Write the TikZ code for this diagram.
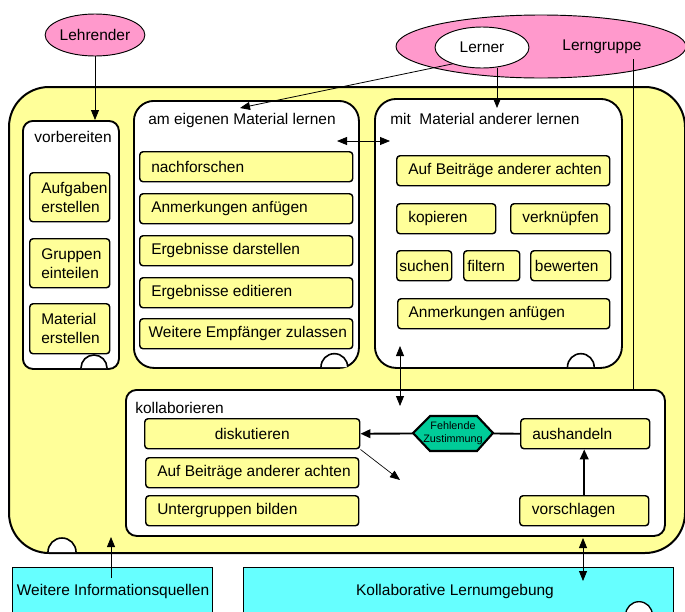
\documentclass[tikz,border=0pt]{standalone}
\usepackage{fontspec}
\setmainfont{Liberation Sans}
\usetikzlibrary{arrows.meta,shapes.geometric}
\definecolor{ylw}{HTML}{FFFF99}
\definecolor{pnk}{HTML}{FF99CC}
\definecolor{cyn}{HTML}{66FFFF}
\definecolor{tea}{HTML}{00CC99}
\begin{document}
\begin{tikzpicture}[x=0.75pt,y=-0.75pt,
  every node/.style={font=\fontsize{11.6}{14.3}\selectfont},
  ell/.style={draw, ellipse, line width=0.7pt, inner sep=0pt},
  grp/.style={draw, line width=1.4pt, fill=white, anchor=north west, inner sep=0pt},
  yb/.style 2 args={draw, line width=1.1pt, fill=ylw, rounded corners=2.5pt, anchor=north west,
     inner sep=0pt, minimum width=#1*0.75pt, minimum height=#2*0.75pt},
  lbl/.style={anchor=west, inner sep=0pt, align=left},
  ttl/.style={anchor=west, inner sep=0pt},
  bump/.style={draw, line width=1.2pt, fill=white},
  arr/.style={-{Triangle[length=7.5pt,width=6pt]}, line width=0.6pt},
  darr/.style={{Triangle[length=7.5pt,width=6pt]}-{Triangle[length=7.5pt,width=6pt]}, line width=0.6pt},
  tarr/.style={-{Triangle[length=7.5pt,width=6.5pt]}, line width=1.4pt},
  cbox/.style={draw, line width=0.8pt, fill=cyn, anchor=north west, inner sep=0pt}
]
\useasboundingbox (0,0) rectangle (685,611);

% main container
\node[draw, line width=1.5pt, fill=ylw, rounded corners=30pt, anchor=north west, inner sep=0pt,
      minimum width=676*0.75pt, minimum height=466*0.75pt] (mainb) at (8,86) {};
\draw[bump] (48,552) arc[start angle=180, end angle=0, radius=10.5pt];

% actors
\node[ell, fill=pnk, minimum width=94*0.75pt, minimum height=42*0.75pt] (lehr) at (95,35) {Lehrender};
\node[ell, fill=pnk, minimum width=290*0.75pt, minimum height=63*0.75pt] (lgrp) at (541,46.5) {};
\node[ell, fill=white, minimum width=94*0.75pt, minimum height=41*0.75pt] (lern) at (482,47.5) {Lerner};
\node (lgtxt) at (602,47) {Lerngruppe};

% group boxes
\node[grp, rounded corners=7.5pt, minimum width=96*0.75pt, minimum height=248*0.75pt] (vorb) at (22,120) {};
\node[grp, rounded corners=15pt, minimum width=225*0.75pt, minimum height=267*0.75pt] (eig) at (133,100) {};
\node[grp, rounded corners=16pt, minimum width=247*0.75pt, minimum height=269*0.75pt] (and) at (374,98) {};
\node[grp, rounded corners=8pt, minimum width=539*0.75pt, minimum height=146*0.75pt] (koll) at (125,389) {};
\draw[bump] (81,368) arc[start angle=180, end angle=0, radius=9.75pt];
\draw[bump] (321,367) arc[start angle=180, end angle=0, radius=10pt];
\draw[bump] (567.5,367) arc[start angle=180, end angle=0, radius=10pt];

\node[ttl] (vorbt) at (34,137) {vorbereiten};
\node[ttl] (eigt) at (148,120) {am eigenen Material lernen};
\node[ttl] (andt) at (390,119) {mit\ \ Material anderer lernen};
\node[ttl] (kollt) at (135,408) {kollaborieren};

% vorbereiten items
\node[yb={80}{49}, label={[lbl, xshift=9pt]west:{Aufgaben\\erstellen}}] (aufg) at (29,172) {};
\node[yb={80}{49}, label={[lbl, xshift=9pt]west:{Gruppen\\einteilen}}] (grup) at (29,238) {};
\node[yb={80}{50}, label={[lbl, xshift=9pt]west:{Material\\erstellen}}] (matl) at (29,303) {};

% am eigenen Material lernen
\node[yb={213}{30}, label={[lbl, xshift=9pt]west:nachforschen}] (nach) at (139,151) {};
\node[yb={213}{30}, label={[lbl, xshift=9pt]west:Anmerkungen anfügen}] (anm1) at (139,193) {};
\node[yb={213}{30}, label={[lbl, xshift=9pt]west:Ergebnisse darstellen}] (edar) at (139,235) {};
\node[yb={213}{30}, label={[lbl, xshift=9pt]west:Ergebnisse editieren}] (edit) at (139,277) {};
\node[yb={213}{30}, label={[lbl, xshift=7pt]west:Weitere Empfänger zulassen}] (empf) at (139,318) {};

% mit Material anderer lernen
\node[yb={213}{30}, label={[lbl, xshift=9pt]west:Auf Beiträge anderer achten}] (abaa) at (396,155) {};
\node[yb={99}{30}, label={[lbl, xshift=9pt]west:kopieren}] (kop) at (396,203) {};
\node[yb={99}{30}, label={[lbl, xshift=9pt]west:verknüpfen}] (verk) at (510,203) {};
\node[yb={55}{30}] (such) at (396,250) {suchen};
\node[yb={56}{30}, label={[lbl, xshift=3pt]west:filtern}] (filt) at (463,250) {};
\node[yb={80}{30}, label={[lbl, xshift=3.5pt]west:bewerten}] (bew) at (530,250) {};
\node[yb={212}{30}, label={[lbl, xshift=8.5pt]west:Anmerkungen anfügen}] (anm2) at (397,298) {};

% kollaborieren
\node[yb={215}{30}] (disk) at (144,418) {diskutieren};
\node[yb={213}{30}, label={[lbl, xshift=9pt]west:Auf Beiträge anderer achten}] (aufb2) at (145,457) {};
\node[yb={213}{30}, label={[lbl, xshift=9pt]west:Untergruppen bilden}] (unter) at (145,495) {};
\node[yb={129}{30}, label={[lbl, xshift=9pt]west:aushandeln}] (aush) at (520,418) {};
\node[yb={129}{30}, label={[lbl, xshift=9.5pt]west:vorschlagen}] (vors) at (519,495) {};

\draw[line width=1.6pt, fill=tea] (413,433) -- (430,416) -- (477,416) -- (493,433) -- (477,451) -- (430,451) -- cycle;
\node[font=\fontsize{8.1}{9.8}\selectfont, align=center, inner sep=0pt,
      minimum width=80*0.75pt, minimum height=35*0.75pt] (hex) at (453,433.5) {Fehlende\\Zustimmung};

% bottom boxes
\node[cbox, minimum width=200*0.75pt, minimum height=48*0.75pt] (wis) at (12,567) {};
\node (wistxt) at (113,591) {Weitere Informationsquellen};
\node[cbox, minimum width=430*0.75pt, minimum height=48*0.75pt] (klu) at (243,567) {};
\node (klutxt) at (455,591) {Kollaborative Lernumgebung};
\draw[bump, line width=1pt] (639,615) circle[radius=10pt];

% connectors
\draw[arr] (lehr.south) -- (lehr.south |- vorb.north);
\coordinate (t1) at (240,108);
\draw[arr] (lern.-151) -- (t1);
\coordinate (t2) at (497,108);
\draw[arr] (t2 |- lern.south) -- (t2);
\coordinate (h1) at (337,141);
\coordinate (h2) at (390,141);
\draw[darr] (h1) -- (h2);
\coordinate (lgc) at (633,59);
\draw[line width=0.6pt] (lgc) -- (lgc |- koll.north);
\coordinate (v1) at (400,346);
\coordinate (v2) at (400,406);
\draw[darr] (v1) -- (v2);
\draw[tarr] (hex.west) -- (disk.east);
\draw[line width=1.4pt] (hex.east) -- (aush.west);
\draw[tarr] (vors.north) -- (vors.north |- aush.south);
\coordinate (d1) at (400,480);
\draw[arr, line width=0.5pt] (disk.south east) -- (d1);
\coordinate (w0) at (111,578);
\coordinate (w1) at (111,537);
\draw[arr] (w0) -- (w1);
\coordinate (k1) at (583,538);
\coordinate (k2) at (583,581);
\draw[darr] (k1) -- (k2);
\end{tikzpicture}
\end{document}
